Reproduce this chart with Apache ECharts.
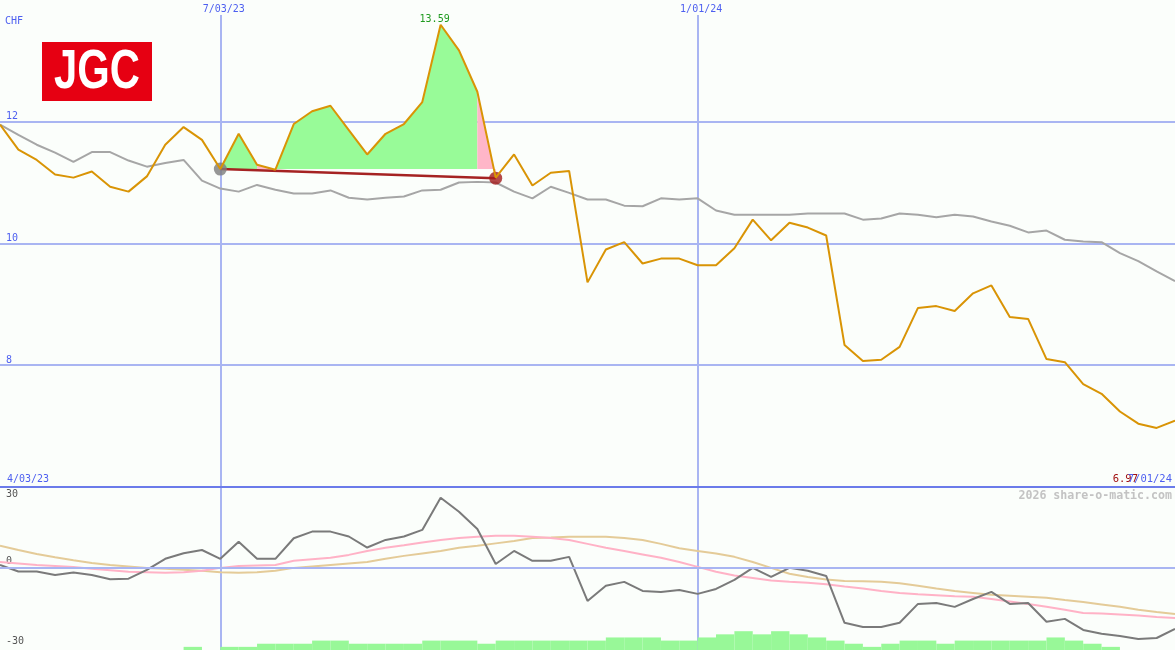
<!DOCTYPE html>
<html>
<head>
<meta charset="utf-8">
<title>JGC</title>
<script src="https://cdn.jsdelivr.net/npm/echarts@6/dist/echarts.min.js"></script>
<style>
  html, body { margin: 0; padding: 0; background: #fbfefb; }
  #chart { width: 1175px; height: 650px; }
</style>
</head>
<body>
<div id="chart"></div>
<script>
// weekly closes, M/DD/YY
const weeks = [
  '4/10/23', '4/17/23', '4/24/23', '5/01/23', '5/08/23', '5/15/23', '5/22/23', '5/29/23', '6/05/23', '6/12/23',
  '6/19/23', '6/26/23', '7/03/23', '7/10/23', '7/17/23', '7/24/23', '7/31/23', '8/07/23', '8/14/23', '8/21/23',
  '8/28/23', '9/04/23', '9/11/23', '9/18/23', '9/25/23', '10/02/23', '10/09/23', '10/16/23', '10/23/23', '10/30/23',
  '11/06/23', '11/13/23', '11/20/23', '11/27/23', '12/04/23', '12/11/23', '12/18/23', '12/25/23', '1/01/24', '1/08/24',
  '1/15/24', '1/22/24', '1/29/24', '2/05/24', '2/12/24', '2/19/24', '2/26/24', '3/04/24', '3/11/24', '3/18/24',
  '3/25/24', '4/01/24', '4/08/24', '4/15/24', '4/22/24', '4/29/24', '5/06/24', '5/13/24', '5/20/24', '5/27/24',
  '6/03/24', '6/10/24', '6/17/24', '6/24/24', '7/01/24'
];

// JGC price in CHF
const price = [
  11.95, 11.54, 11.37, 11.13, 11.08, 11.18, 10.93, 10.85, 11.10, 11.62,
  11.91, 11.70, 11.22, 11.80, 11.29, 11.21, 11.96, 12.17, 12.26, 11.86,
  11.46, 11.80, 11.96, 12.32, 13.59, 13.17, 12.49, 11.08, 11.46, 10.95,
  11.16, 11.19, 9.36, 9.90, 10.02, 9.67, 9.75, 9.75, 9.64, 9.64,
  9.92, 10.39, 10.05, 10.34, 10.26, 10.13, 8.33, 8.07, 8.09, 8.30,
  8.94, 8.97, 8.89, 9.18, 9.31, 8.79, 8.76, 8.10, 8.05, 7.69,
  7.53, 7.24, 7.04, 6.97, 7.09
];

// comparison index (grey)
const sector = [
  11.95, 11.78, 11.62, 11.49, 11.34, 11.50, 11.50, 11.36, 11.26, 11.32,
  11.37, 11.03, 10.90, 10.85, 10.96, 10.88, 10.82, 10.82, 10.87, 10.75,
  10.72, 10.75, 10.77, 10.87, 10.88, 11.00, 11.01, 11.00, 10.85, 10.74,
  10.93, 10.83, 10.72, 10.72, 10.62, 10.61, 10.74, 10.72, 10.74, 10.54,
  10.47, 10.47, 10.47, 10.47, 10.49, 10.49, 10.49, 10.39, 10.41, 10.49,
  10.47, 10.43, 10.47, 10.44, 10.36, 10.29, 10.18, 10.21, 10.06, 10.03,
  10.02, 9.84, 9.71, 9.54, 9.38
];

// lower panel oscillator
const momentum = [
  1.2, -1.5, -1.5, -2.9, -1.9, -2.9, -4.6, -4.4, -0.8, 3.7,
  6.0, 7.3, 3.7, 10.7, 3.7, 3.7, 12.1, 14.8, 14.8, 12.8,
  8.3, 11.4, 12.8, 15.5, 28.6, 22.9, 15.9, 1.6, 6.9, 2.9,
  2.9, 4.5, -13.5, -7.3, -5.7, -9.4, -9.8, -9.0, -10.6, -8.6,
  -4.9, 0.0, -3.7, 0.0, -1.2, -3.3, -22.4, -24.1, -24.1, -22.4,
  -14.7, -14.3, -15.9, -12.7, -9.8, -14.7, -14.3, -22.0, -20.8, -25.3,
  -26.9, -27.8, -29.0, -28.6, -24.9
];
const maFast = [
  2.4, 1.8, 1.2, 0.8, 0.4, -0.4, -1.0, -1.6, -1.8, -2.0,
  -1.8, -1.2, 0.0, 0.8, 1.0, 1.2, 2.9, 3.5, 4.1, 5.3,
  6.9, 8.2, 9.2, 10.4, 11.4, 12.2, 12.7, 13.1, 13.1, 12.7,
  12.2, 11.4, 9.8, 8.2, 6.9, 5.5, 4.1, 2.4, 0.4, -1.6,
  -3.1, -4.1, -5.1, -5.7, -6.1, -6.7, -7.6, -8.4, -9.4, -10.2,
  -10.8, -11.2, -11.6, -11.8, -12.7, -13.7, -14.7, -15.9, -17.1, -18.4,
  -18.6, -19.0, -19.4, -20.0, -20.4
];
const maSlow = [
  9.0, 7.3, 5.7, 4.3, 3.1, 2.0, 1.2, 0.6, 0.0, -0.4,
  -0.8, -1.2, -1.8, -2.0, -1.8, -1.2, 0.0, 0.6, 1.2, 1.8,
  2.4, 3.7, 4.9, 5.9, 6.9, 8.2, 9.0, 10.0, 11.0, 12.2,
  12.4, 12.7, 12.7, 12.7, 12.2, 11.4, 9.8, 8.0, 6.9, 5.9,
  4.5, 2.4, 0.0, -2.4, -3.7, -4.7, -5.3, -5.5, -5.7, -6.3,
  -7.3, -8.4, -9.4, -10.2, -11.0, -11.4, -11.8, -12.2, -13.1, -13.9,
  -14.9, -15.9, -17.1, -18.0, -18.8
];

// volume per week (relative units)
const volume = [
  0, 0, 0, 0, 0, 0, 0, 0, 0, 0,
  1, 0, 1, 1, 2, 2, 2, 3, 3, 2,
  2, 2, 2, 3, 3, 3, 2, 3, 3, 3,
  3, 3, 3, 4, 4, 4, 3, 3, 4, 5,
  6, 5, 6, 5, 4, 3, 2, 1, 2, 3,
  3, 2, 3, 3, 3, 3, 3, 4, 3, 2,
  1, 0, 0, 0
];

const priceLabels = [8, 10, 12];
const oscTicks = [-30, 0, 30];
const dateMarks = ['7/03/23', '1/01/24'];

// holding period
const buyIndex = 12;
const sellIndex = 27;
const buyPrice = 11.22;
const sellPrice = 11.07;
const gainRanges = [[12, 14], [15, 26]];
const lossRanges = [[14, 15], [26, 27]];

const gridBlue = '#a9b5f2';
const labelBlue = '#4d5ff0';
const mono = 'DejaVu Sans Mono';

const isMark = (i) => dateMarks.includes(weeks[i]);
const segment = (r) => price.map((v, i) => (i >= r[0] && i <= r[1] ? v : null));

function areaSeries(range, color) {
  return {
    type: 'line',
    xAxisIndex: 0,
    yAxisIndex: 0,
    data: segment(range),
    symbol: 'none',
    lineStyle: { width: 0 },
    areaStyle: { color: color, opacity: 1, origin: buyPrice },
    silent: true,
    z: 2
  };
}

const holdLine = price.map((v, i) => (i === buyIndex ? buyPrice : i === sellIndex ? sellPrice : null));
const holdDots = price.map((v, i) => {
  if (i === buyIndex) return { value: buyPrice, itemStyle: { color: '#7d7d7d' }, symbolSize: 13 };
  if (i === sellIndex) return { value: sellPrice, itemStyle: { color: '#a31c1c' }, symbolSize: 13 };
  return null;
});

const chart = echarts.init(document.getElementById('chart'));

const option = {
  backgroundColor: '#fbfefb',
  animation: false,
  textStyle: { fontFamily: mono },
  grid: [
    { left: 0, right: 0, top: 15, height: 472 },
    { left: 0, right: 0, top: 487, height: 163 }
  ],
  xAxis: [
    {
      gridIndex: 0,
      type: 'category',
      data: weeks,
      boundaryGap: false,
      position: 'top',
      axisLine: { show: false, onZero: false },
      axisTick: { show: false },
      axisLabel: {
        interval: (i) => isMark(i),
        color: labelBlue,
        fontSize: 10,
        fontFamily: mono,
        margin: 1,
        padding: [0, 0, 0, 7]
      },
      splitLine: { show: true, interval: (i) => isMark(i), lineStyle: { color: gridBlue, width: 2 } }
    },
    {
      gridIndex: 1,
      type: 'category',
      data: weeks,
      boundaryGap: false,
      position: 'top',
      axisLine: { show: true, onZero: false, lineStyle: { color: '#6b7bea', width: 2 } },
      axisTick: { show: false },
      axisLabel: { show: false },
      splitLine: { show: true, interval: (i) => isMark(i), lineStyle: { color: gridBlue, width: 2 } }
    },
    {
      gridIndex: 1,
      type: 'category',
      data: weeks.slice(0, volume.length),
      boundaryGap: true,
      show: false
    }
  ],
  yAxis: [
    {
      gridIndex: 0,
      type: 'value',
      min: 6,
      max: 13.75,
      interval: 2,
      axisLine: { show: false },
      axisTick: { show: false },
      axisLabel: {
        inside: true,
        margin: 6,
        verticalAlign: 'bottom',
        color: labelBlue,
        fontSize: 10,
        fontFamily: mono,
        formatter: (v) => (priceLabels.includes(v) ? String(v) : '')
      },
      splitLine: { show: true, showMinLine: false, showMaxLine: false, lineStyle: { color: gridBlue, width: 2 } }
    },
    {
      gridIndex: 1,
      type: 'value',
      min: -33.5,
      max: 33,
      axisLine: { show: false },
      axisTick: { show: false },
      splitLine: { show: false },
      axisLabel: {
        customValues: oscTicks,
        inside: true,
        margin: 6,
        color: '#555',
        fontSize: 10,
        fontFamily: mono,
        formatter: (v) => (v === 0 ? '{up|0}' : String(v)),
        rich: {
          up: { color: '#555', fontSize: 10, fontFamily: mono, padding: [0, 0, 12, 0] }
        }
      },
      z: 1
    },
    {
      gridIndex: 1,
      type: 'value',
      min: 0,
      max: 52,
      show: false
    }
  ],
  graphic: [
    { type: 'rect', left: 42, top: 42, shape: { width: 110, height: 59 }, style: { fill: '#e60012' } },
    {
      type: 'text', x: 97, y: 73, scaleX: 0.76,
      style: { text: 'JGC', x: 0, y: 0, align: 'center', verticalAlign: 'middle', fill: '#fff', fontSize: 55, fontWeight: 'bold', fontFamily: 'Liberation Sans' }
    },
    { type: 'text', x: 5, y: 21, style: { text: 'CHF', verticalAlign: 'middle', fill: labelBlue, fontSize: 10, fontFamily: mono } },
    { type: 'text', x: 7, y: 479, style: { text: '4/03/23', verticalAlign: 'middle', fill: labelBlue, fontSize: 10, fontFamily: mono } },
    { type: 'text', x: 1138, y: 479, style: { text: Math.min(...price).toFixed(2), align: 'right', verticalAlign: 'middle', fill: '#a01010', fontSize: 10.5, fontFamily: mono } },
    { type: 'text', x: 1172, y: 479, style: { text: weeks[weeks.length - 1], align: 'right', verticalAlign: 'middle', fill: labelBlue, fontSize: 10.5, fontFamily: mono } },
    { type: 'text', x: 1172, y: 496, style: { text: '2026 share-o-matic.com', align: 'right', verticalAlign: 'middle', fill: '#c3c3c3', fontSize: 11.6, fontWeight: 'bold', fontFamily: mono } }
  ],
  series: [
    {
      name: 'Sector',
      type: 'line',
      xAxisIndex: 0,
      yAxisIndex: 0,
      data: sector,
      symbol: 'none',
      lineStyle: { color: '#a6a6a6', width: 2 },
      z: 1
    },
    ...gainRanges.map((r) => areaSeries(r, '#98fb98')),
    ...lossRanges.map((r) => areaSeries(r, '#ffb6c8')),
    {
      name: 'Hold',
      type: 'line',
      xAxisIndex: 0,
      yAxisIndex: 0,
      data: holdLine,
      connectNulls: true,
      symbol: 'none',
      lineStyle: { color: '#a52222', width: 2.5 },
      z: 3
    },
    {
      name: 'Trades',
      type: 'scatter',
      xAxisIndex: 0,
      yAxisIndex: 0,
      data: holdDots,
      symbol: 'circle',
      z: 4
    },
    {
      name: 'JGC',
      type: 'line',
      xAxisIndex: 0,
      yAxisIndex: 0,
      data: price,
      symbol: 'none',
      lineStyle: { color: '#d99405', width: 2 },
      markPoint: {
        symbol: 'circle',
        symbolSize: 1,
        itemStyle: { color: 'transparent' },
        label: { show: true, position: 'top', distance: 2, offset: [-6, 2], color: '#1f9a1f', fontSize: 10, fontFamily: mono, formatter: (p) => p.value.toFixed(2) },
        data: [{ type: 'max' }]
      },
      z: 5
    },
    {
      name: 'Volume',
      type: 'bar',
      xAxisIndex: 2,
      yAxisIndex: 2,
      data: volume,
      barCategoryGap: '0%',
      itemStyle: { color: '#98f898' },
      z: 1
    },
    {
      name: 'Slow',
      type: 'line',
      xAxisIndex: 1,
      yAxisIndex: 1,
      data: maSlow,
      symbol: 'none',
      lineStyle: { color: '#e4cb98', width: 2 },
      markLine: {
        silent: true,
        symbol: ['none', 'none'],
        label: { show: false },
        lineStyle: { color: gridBlue, width: 2, type: 'solid' },
        data: [{ yAxis: 0 }]
      },
      z: 2
    },
    {
      name: 'Fast',
      type: 'line',
      xAxisIndex: 1,
      yAxisIndex: 1,
      data: maFast,
      symbol: 'none',
      lineStyle: { color: '#ffb2c6', width: 2 },
      z: 3
    },
    {
      name: 'Momentum',
      type: 'line',
      xAxisIndex: 1,
      yAxisIndex: 1,
      data: momentum,
      symbol: 'none',
      lineStyle: { color: '#7a7a7a', width: 2 },
      z: 4
    }
  ]
};

chart.setOption(option);
</script>
</body>
</html>
